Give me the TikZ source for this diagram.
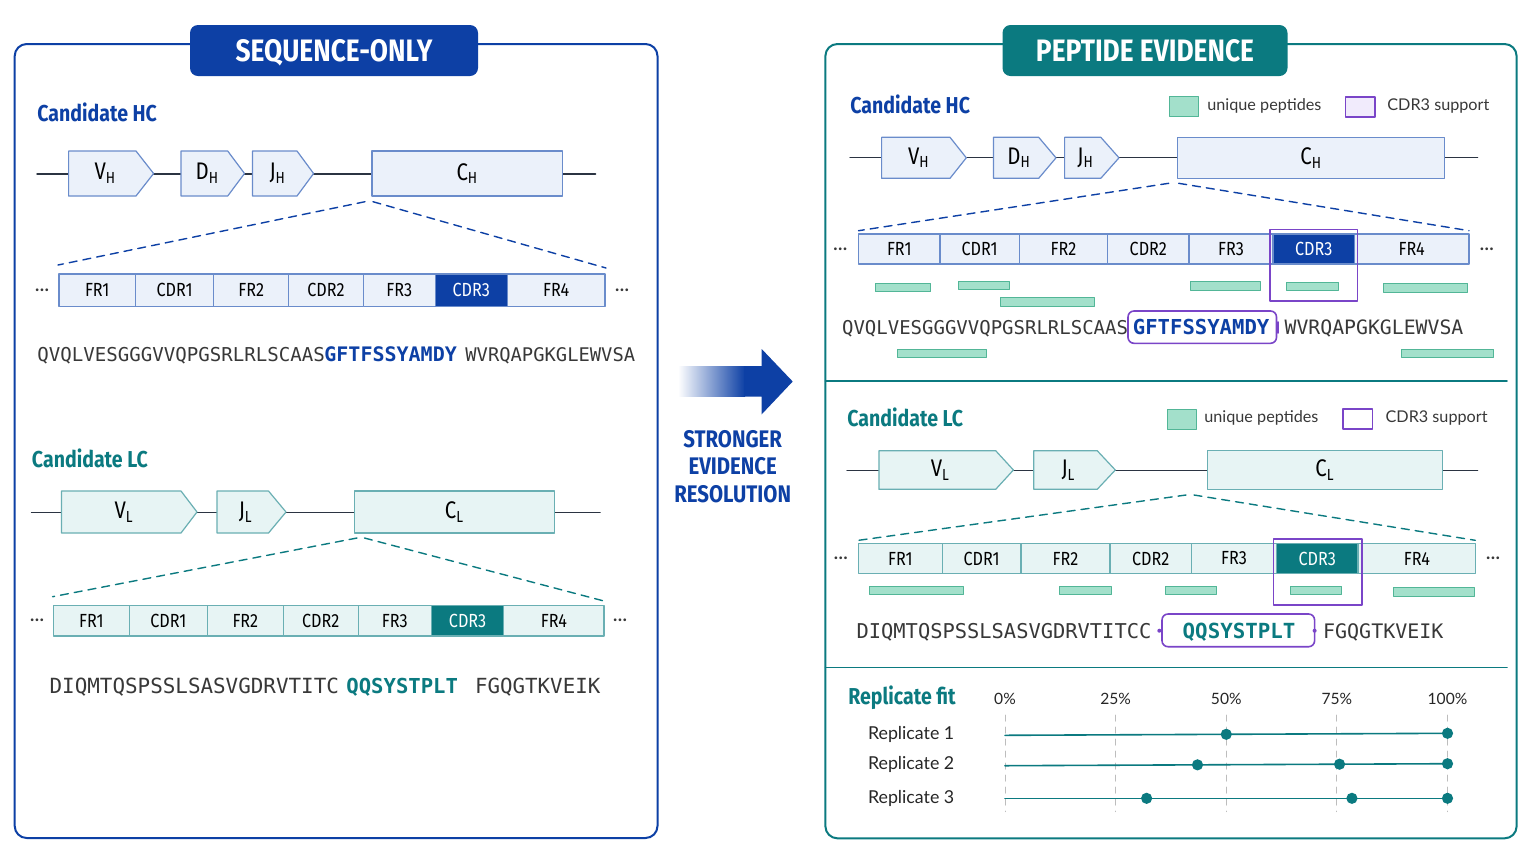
\documentclass[tikz,border=0pt]{standalone}
\usepackage{fontspec}
\setmainfont{Lato}
\newfontfamily\condfont[FakeStretch=0.85]{Fira Sans}
\newfontfamily\seqfont{DejaVu Sans Mono}
\usetikzlibrary{calc}
\definecolor{seqblue}{HTML}{0D40A5}
\definecolor{seqteal}{HTML}{0B7A80}
\definecolor{hcfill}{HTML}{EBF1FA}
\definecolor{hcline}{HTML}{6A8CCB}
\definecolor{lcfill}{HTML}{E7F4F4}
\definecolor{lcline}{HTML}{6AAFB3}
\definecolor{pepfill}{HTML}{A3E0CB}
\definecolor{pepline}{HTML}{52B697}
\definecolor{cdrpurple}{HTML}{7A45C8}
\definecolor{lavender}{HTML}{F1EBFC}
\definecolor{backbone}{HTML}{2B3442}
\definecolor{gridgray}{HTML}{BDBDBD}
\definecolor{seqgray}{HTML}{383838}
\tikzset{
  panel/.style={line width=1pt,rounded corners=6pt},
  title box/.style={rounded corners=4pt,text=white,inner sep=0pt,minimum height=25.5pt,
    text depth=0pt,font=\condfont\bfseries\fontsize{15.5}{18}\selectfont},
  chain title/.style={anchor=west,inner sep=0pt,font=\condfont\bfseries\fontsize{11.5}{13}\selectfont},
  backbone/.style={draw=backbone,line width=.75pt},
  hc box/.style={draw=hcline,fill=hcfill,line width=.6pt},
  lc box/.style={draw=lcline,fill=lcfill,line width=.6pt},
  gene label/.style={inner sep=0pt,font=\condfont\fontsize{12}{13}\selectfont},
  region label/.style={inner sep=0pt,font=\condfont\fontsize{9.5}{11}\selectfont},
  zoom line/.style={dash pattern=on 4pt off 3pt,line width=.7pt},
  more dots/.style={inner sep=0pt,text=seqgray,font=\bfseries\fontsize{9}{10}\selectfont},
  seq/.style={anchor=base west,inner sep=0pt,text=seqgray,font=\seqfont\fontsize{#1}{12}\selectfont},
  seq/.default=9.5,
  peptide/.style={draw=pepline,fill=pepfill,line width=.5pt},
  cdr support/.style={draw=cdrpurple,line width=.8pt},
  seq frame/.style={draw=cdrpurple,line width=.8pt,rounded corners=3pt},
  legend label/.style={anchor=west,inner sep=0pt,text=seqgray,font=\fontsize{8.1}{10}\selectfont},
  rep label/.style={anchor=west,inner sep=0pt,text=black!85,font=\fontsize{8.9}{10}\selectfont},
  axis label/.style={inner sep=0pt,text=black!85,font=\fontsize{7.8}{9}\selectfont},
  grid line/.style={draw=gridgray,dashed,line width=.5pt},
  fit line/.style={draw=seqteal,line width=.8pt},
  fit dot/.style={circle,fill=seqteal,inner sep=0pt,minimum size=5.6pt},
  divider/.style={draw=seqteal,line width=.8pt}
}
\newcommand{\GeneArrow}[8]{% name, style, left, body end, tip, top, bottom, label
  \draw[#2] (#3,#6) -- (#4,#6) -- (#5,{(#6+#7)/2}) -- (#4,#7) -- (#3,#7) -- cycle;
  \node[gene label] (#1) at ({(#3+#4)/2+3},{(#6+#7)/2}) {#8};}
\newcommand{\GeneBox}[7]{% name, style, left, right, top, bottom, label
  \draw[#2] (#3,#5) rectangle (#4,#6);
  \node[gene label] (#1) at ({(#3+#4)/2},{(#5+#6)/2}) {#7};}

\begin{document}
\begin{tikzpicture}[x=0.5pt,y=-0.5pt,line cap=round,line join=round]
  \useasboundingbox (0,0) rectangle (1536,864);
  \fill[white] (0,0) rectangle (1536,864);

  % sequence-only panel
  \draw[panel,draw=seqblue] (14.7,44) rectangle (657.5,838);
  \node[title box,fill=seqblue,minimum width=144pt] (soTitle) at (334,50.5) {SEQUENCE-ONLY};

  \node[chain title,text=seqblue] (soHC) at (37,112) {Candidate HC};
  \coordinate (soHCa) at (37,174);
  \coordinate (soHCb) at (595.5,174);
  \draw[backbone] (soHCa) -- (soHCb);
  \GeneArrow{soV}{hc box}{68.6}{136}{153.6}{151}{196}{V\textsubscript{H}}
  \GeneArrow{soD}{hc box}{181}{227.7}{244.5}{151}{196}{D\textsubscript{H}}
  \GeneArrow{soJ}{hc box}{252.5}{297}{313.6}{151}{196}{J\textsubscript{H}}
  \GeneBox{soC}{hc box}{372}{562.7}{151}{196}{C\textsubscript{H}}
  \coordinate (soHCz1) at (365,201.7);
  \coordinate (soHCz2) at (373,201.7);
  \coordinate (soHCz3) at (58,265);
  \coordinate (soHCz4) at (606,268);
  \draw[zoom line,draw=seqblue] (soHCz1) -- (soHCz3) (soHCz2) -- (soHCz4);
  \foreach \a/\b/\lab [count=\i] in {59/135.5/FR1,135.5/213.8/CDR1,213.8/288.7/FR2,
      288.7/363.2/CDR2,363.2/435.2/FR3,507.2/605/FR4} {
    \draw[hc box] (\a,274) rectangle (\b,306.7);
    \node[region label] (soHr\i) at ({(\a+\b)/2},290.3) {\lab};
  }
  \draw[hc box,fill=seqblue] (435.2,274) rectangle (507.2,306.7);
  \node[region label,text=white] (soHcdr) at (471.2,290.3) {CDR3};
  \node[more dots] (soHdl) at (42,290) {…};
  \node[more dots] (soHdr) at (622,290) {…};
  \node[seq=9.55] (soHs1) at (37,361) {QVQLVESGGGVVQPGSRLRLSCAAS};
  \node[seq=10,text=seqblue,font=\seqfont\bfseries\fontsize{10}{12}\selectfont] (soHs2) at (324,361) {GFTFSSYAMDY};
  \node[seq=9.4] (soHs3) at (465,361) {WVRQAPGKGLEWVSA};

  \node[chain title,text=seqteal] (soLC) at (31.6,458) {Candidate LC};
  \coordinate (soLCa) at (31.6,512.7);
  \coordinate (soLCb) at (600,512.7);
  \draw[backbone] (soLCa) -- (soLCb);
  \GeneArrow{soVL}{lc box}{61.4}{181}{197}{491}{533}{V\textsubscript{L}}
  \GeneArrow{soJL}{lc box}{217}{268.5}{286}{491}{533}{J\textsubscript{L}}
  \GeneBox{soCL}{lc box}{354.4}{554.7}{491}{533}{C\textsubscript{L}}
  \coordinate (soLCz1) at (357,538);
  \coordinate (soLCz2) at (364.5,538);
  \coordinate (soLCz3) at (52.6,596.7);
  \coordinate (soLCz4) at (604,601);
  \draw[zoom line,draw=seqteal] (soLCz1) -- (soLCz3) (soLCz2) -- (soLCz4);
  \foreach \a/\b/\lab [count=\i] in {53.5/129.2/FR1,129.2/207.5/CDR1,207.5/283.2/FR2,
      283.2/358.2/CDR2,358.2/431.4/FR3,503.8/604/FR4} {
    \draw[lc box] (\a,605.7) rectangle (\b,636);
    \node[region label] (soLr\i) at ({(\a+\b)/2},621) {\lab};
  }
  \draw[lc box,fill=seqteal] (431.4,605.7) rectangle (503.8,636);
  \node[region label,text=white] (soLcdr) at (467.6,621) {CDR3};
  \node[more dots] (soLdl) at (37,620) {…};
  \node[more dots] (soLdr) at (620,620) {…};
  \node[seq=10.45] (soLs1) at (49.2,693) {DIQMTQSPSSLSASVGDRVTITC};
  \node[seq,text=seqteal,font=\seqfont\bfseries\fontsize{10.3}{12}\selectfont] (soLs2) at (346,693) {QQSYSTPLT};
  \node[seq=10.4] (soLs3) at (474.7,693) {FGQGTKVEIK};

  % arrow between the panels
  \shade[left color=white,right color=seqblue] (678,366) rectangle (745,396.7);
  \fill[seqblue] (744,366) -- (761.7,366) -- (761.7,349) -- (792.7,381.5)
    -- (761.7,414.3) -- (761.7,396.7) -- (744,396.7) -- cycle;
  \node[align=center,text=seqblue,inner sep=0pt,
    font=\condfont\bfseries\fontsize{12}{13.8}\selectfont] (gain) at (732.7,466.5)
    {STRONGER\\EVIDENCE\\RESOLUTION};

  % peptide evidence panel
  \draw[panel,draw=seqteal] (825.4,44) rectangle (1516.6,838.3);
  \node[title box,fill=seqteal,minimum width=142.5pt] (peTitle) at (1145,50.5) {PEPTIDE EVIDENCE};

  \node[chain title,text=seqblue] (peHC) at (850,104) {Candidate HC};
  \draw[peptide] (1169.6,96.7) rectangle (1198.6,116.7);
  \node[legend label] (peHkey1) at (1207,106) {unique peptides};
  \draw[cdr support,fill=lavender] (1345.4,96.7) rectangle (1375.2,116.7);
  \node[legend label] (peHkey2) at (1387,106) {CDR3 support};
  \coordinate (peHCa) at (850,157.7);
  \coordinate (peHCb) at (1477.6,157.7);
  \draw[backbone] (peHCa) -- (peHCb);
  \GeneArrow{peV}{hc box}{881.6}{950}{966.3}{137.3}{178.3}{V\textsubscript{H}}
  \GeneArrow{peD}{hc box}{993.5}{1038.7}{1056}{137.3}{178.3}{D\textsubscript{H}}
  \GeneArrow{peJ}{hc box}{1064.6}{1100.8}{1119}{137.3}{178.3}{J\textsubscript{H}}
  \GeneBox{peC}{hc box}{1177.8}{1444.5}{137.3}{178.3}{C\textsubscript{H}}
  \coordinate (peHCz1) at (1168.7,183.3);
  \coordinate (peHCz2) at (1178.7,183.3);
  \coordinate (peHCz3) at (858.5,230.7);
  \coordinate (peHCz4) at (1469,230.7);
  \draw[zoom line,draw=seqblue] (peHCz1) -- (peHCz3) (peHCz2) -- (peHCz4);
  \foreach \a/\b/\lab [count=\i] in {858.5/940/FR1,940/1019.3/CDR1,1019.3/1107.6/FR2,
      1107.6/1189/CDR2,1189/1273/FR3,1354.4/1469/FR4} {
    \draw[hc box] (\a,234) rectangle (\b,264);
    \node[region label] (peHr\i) at ({(\a+\b)/2},249.3) {\lab};
  }
  \draw[hc box,fill=seqblue] (1273,234) rectangle (1354.4,264);
  \node[region label,text=white] (peHcdr) at (1313.7,249.3) {CDR3};
  \node[more dots] (peHdl) at (840.4,249.3) {…};
  \node[more dots] (peHdr) at (1486.7,249.3) {…};
  \foreach \a/\b/\c/\d in {875.3/283.3/930.5/291.7,958.1/281/1009.3/289.3,
      1190/281/1260.2/290,1286.5/282/1338.6/290,1383/283.3/1467.6/292.3,
      1000.3/297.3/1094/306,897/349/986.7/357.3,1401/349/1493.5/357.3}
    \draw[peptide] (\a,\b) rectangle (\c,\d);
  \draw[cdr support] (1269.7,229.3) rectangle (1357.6,301);
  \node[seq=9.5] (peHs1) at (841.7,334.3) {QVQLVESGGGVVQPGSRLRLSCAAS};
  \draw[seq frame] (1128,311) rectangle (1276.5,343.3);
  \node[seq,text=seqblue,font=\seqfont\bfseries\fontsize{10.3}{12}\selectfont] (peHs2) at (1132.5,334.3) {GFTFSSYAMDY};
  \draw[cdr support] (1278,322) -- (1278,333);
  \node[seq=9.9] (peHs3) at (1284.2,334.3) {WVRQAPGKGLEWVSA};

  \draw[divider] (825.4,381) -- (1507,381);

  \node[chain title,text=seqteal] (peLC) at (847,417.3) {Candidate LC};
  \draw[peptide] (1167.4,409) rectangle (1196.4,429);
  \node[legend label] (peLkey1) at (1204,418) {unique peptides};
  \draw[cdr support,fill=white] (1343,409) rectangle (1372.5,429);
  \node[legend label] (peLkey2) at (1385.2,418) {CDR3 support};
  \coordinate (peLCa) at (847,470.3);
  \coordinate (peLCb) at (1477.6,470.3);
  \draw[backbone] (peLCa) -- (peLCb);
  \GeneArrow{peVL}{lc box}{878.9}{995.7}{1013.4}{450.7}{489.3}{V\textsubscript{L}}
  \GeneArrow{peJL}{lc box}{1033.8}{1097.2}{1115.3}{450.7}{489.3}{J\textsubscript{L}}
  \GeneBox{peCL}{lc box}{1207.2}{1442.7}{450.7}{489.3}{C\textsubscript{L}}
  \coordinate (peLCz1) at (1186,495);
  \coordinate (peLCz2) at (1194,495);
  \coordinate (peLCz3) at (858.5,540.3);
  \coordinate (peLCz4) at (1475.3,540.3);
  \draw[zoom line,draw=seqteal] (peLCz1) -- (peLCz3) (peLCz2) -- (peLCz4);
  \foreach \a/\b/\lab [count=\i] in {858.5/942.3/FR1,942.3/1021/CDR1,1021/1109.9/FR2,
      1109.9/1191.4/CDR2,1191.4/1276.5/FR3,1358/1475.8/FR4} {
    \draw[lc box] (\a,543.7) rectangle (\b,573.3);
    \node[region label] (peLr\i) at ({(\a+\b)/2},558.5) {\lab};
  }
  \draw[lc box,fill=seqteal] (1276.5,543.7) rectangle (1358,573.3);
  \node[region label,text=white] (peLcdr) at (1317.2,558.5) {CDR3};
  \node[more dots] (peLdl) at (840.8,558.3) {…};
  \node[more dots] (peLdr) at (1493,558.3) {…};
  \foreach \a/\b/\c/\d in {869.8/586/963.1/594.3,1059/586/1111.2/594.3,
      1165/586/1216.7/594.3,1290/586/1341.7/594.3,1393/587.7/1474.4/596}
    \draw[peptide] (\a,\b) rectangle (\c,\d);
  \draw[cdr support] (1273.3,538.7) rectangle (1361.7,605);
  \node[seq=10.2] (peLs1) at (856.2,638) {DIQMTQSPSSLSASVGDRVTITCC};
  \draw[seq frame] (1162,614) rectangle (1314.6,646.7);
  \fill[cdrpurple] (1159.3,630.7) circle (1pt) (1314.6,630.7) circle (1pt);
  \node[seq,text=seqteal,font=\seqfont\bfseries\fontsize{10.4}{12}\selectfont] (peLs2) at (1182.3,638) {QQSYSTPLT};
  \node[seq=10] (peLs3) at (1322.7,638) {FGQGTKVEIK};

  \draw[divider] (825.4,667.3) -- (1507,667.3);

  % replicate fit
  \node[chain title,text=seqteal] (peFit) at (848,697.3) {Replicate fit};
  \foreach \p in {0,25,50,75,100} {
    \draw[grid line] ({1005+4.425*\p},715) -- ({1005+4.425*\p},811.7);
    \node[axis label] (ax\p) at ({1005+4.425*\p},699.3) {\p\%};
  }
  \foreach \r/\ya/\yb/\pts in {1/735.3/733.3/{50,100},2/765.7/763.7/{43.5,75.6,100},
      3/798.3/798.3/{32,78.4,100}} {
    \node[rep label] (rep\r) at (867.6,{(\ya+\yb)/2}) {Replicate \r};
    \coordinate (rep\r s) at (1005,\ya);
    \coordinate (rep\r e) at (1447.5,\yb);
    \draw[fit line] (rep\r s) -- (rep\r e);
    \foreach \p [count=\k] in \pts
      \node[fit dot] (rep\r d\k) at ($(rep\r s)!\p/100!(rep\r e)$) {};
  }
\end{tikzpicture}
\end{document}
